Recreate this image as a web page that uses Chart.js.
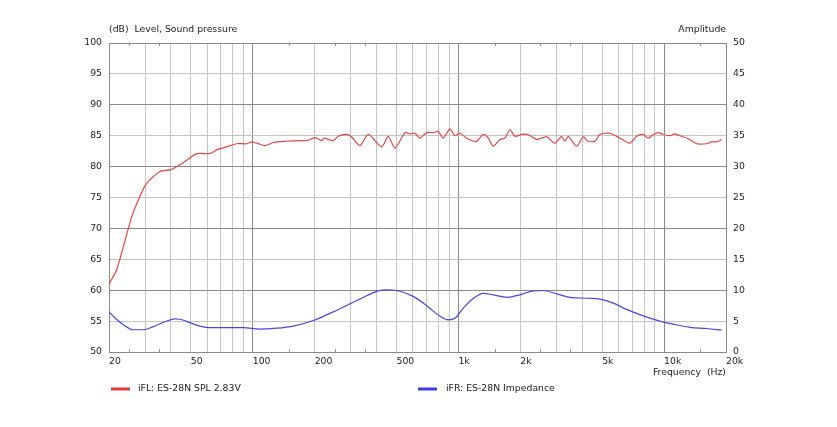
<!DOCTYPE html>
<html>
<head>
<meta charset="utf-8">
<script src="https://cdn.jsdelivr.net/npm/chart.js@4.4.1/dist/chart.umd.min.js"></script>
<style>
  body { margin: 0; background: #fff; }
  #wrap { width: 837px; height: 427px; position: relative; }
</style>
</head>
<body>
<div id="wrap"><canvas id="splChart"></canvas></div>
<script>
// --- data ---
const splFreq = [20, 21.8, 25.8, 28.3, 30.2, 35.4, 40, 44.3, 49.5, 53.4, 62, 66.8, 74.7, 83.5, 93.4, 98.8,
  104.5, 114.7, 125.9, 146.2, 169.7, 182.9, 200.7, 216.4, 222, 246.3, 260.5, 286.2, 302.6, 332, 364.6,
  423.6, 456, 491.6, 549.6, 581, 614.6, 650, 701, 754.6, 797.9, 843.9, 909.8, 962, 1017.6, 1096.5, 1183,
  1229, 1320, 1396, 1476, 1592, 1683, 1780, 1882, 2029, 2184, 2400, 2685, 2946, 3176, 3295, 3419, 3755,
  4044, 4277, 4610, 4875, 5452, 6098, 6820, 7353, 7917, 8373, 8855, 9364, 9904, 10677, 11291, 11940,
  13100, 14390, 16090, 17020, 18000, 19040];
const splDb = [61, 63.3, 71.9, 75.2, 77.1, 79.2, 79.5, 80.3, 81.4, 82.1, 82.1, 82.7, 83.2, 83.7, 83.7, 84.0,
  83.8, 83.4, 83.9, 84.1, 84.2, 84.2, 84.7, 84.2, 84.6, 84.2, 84.9, 85.2, 84.8, 83.4, 85.2,
  83.2, 84.9, 83.0, 85.5, 85.3, 85.4, 84.6, 85.5, 85.5, 85.7, 84.6, 86.1, 85.0, 85.4, 84.6, 84.1,
  84.1, 85.2, 84.6, 83.3, 84.4, 84.6, 86.0, 84.9, 85.2, 85.2, 84.4, 84.8, 83.8, 84.9, 84.1, 84.9, 83.3,
  84.8, 84.1, 84.1, 85.2, 85.4, 84.6, 83.8, 84.9, 85.2, 84.6, 85.2, 85.5, 85.2, 85.0, 85.3, 85.0,
  84.5, 83.7, 83.7, 84.0, 84.0, 84.4];

const impFreq = [20, 21.4, 23.5, 26.3, 29.4, 32.8, 37.4, 41.9, 44.3, 49.5, 55.4, 62, 74.7, 90, 108.4, 130.7,
  157.4, 197, 246.3, 308, 358, 407.8, 448, 500.8, 603, 701, 813, 892, 962, 1056, 1183, 1320, 1476, 1716,
  1991, 2311, 2585, 3004, 3486, 4203, 4875, 5659, 6573, 7917, 9545, 11080, 13350, 16090, 19040];
const impAmp = [6.5, 5.5, 4.4, 3.6, 3.6, 4.1, 4.9, 5.35, 5.3, 4.75, 4.2, 3.95, 3.95, 3.95, 3.7, 3.85,
  4.2, 5.1, 6.5, 8.05, 9.1, 9.9, 10.05, 9.95, 9.0, 7.5, 5.8, 5.2, 5.45, 7.1, 8.7, 9.5, 9.25, 8.85,
  9.25, 9.9, 9.95, 9.4, 8.85, 8.7, 8.55, 7.9, 6.9, 5.85, 5.0, 4.5, 4.0, 3.8, 3.55];

const gridFreqs = [20, 30, 40, 50, 60, 70, 80, 90, 100, 200, 300, 400, 500, 600, 700, 800, 900,
  1000, 2000, 3000, 4000, 5000, 6000, 7000, 8000, 9000, 10000, 20000];
const freqLabels = { 20: '20', 50: '50', 100: '100', 200: '200', 500: '500', 1000: '1k',
  2000: '2k', 5000: '5k', 10000: '10k', 20000: '20k' };
const minorMarks = [25, 35, 150, 250, 350, 1500, 2500, 3500, 15000];

const FONT = 'DejaVu Sans';
const TXT = '#222222';

// --- plugin: titles, legend, small tick marks ---
const decorPlugin = {
  id: 'decor',
  afterDraw(chart) {
    const c = chart.ctx;
    const xs = chart.scales.x;
    const area = chart.chartArea;
    c.save();
    // minor ticks at top and bottom edges
    c.strokeStyle = '#909090';
    c.lineWidth = 1;
    minorMarks.forEach(f => {
      const px = Math.round(xs.getPixelForValue(f)) + 0.5;
      c.beginPath();
      c.moveTo(px, area.top); c.lineTo(px, area.top + 3);
      c.moveTo(px, area.bottom); c.lineTo(px, area.bottom - 3);
      c.stroke();
    });

    c.font = '9.3px "' + FONT + '"';
    c.fillStyle = TXT;
    c.textBaseline = 'middle';
    c.textAlign = 'left';
    c.fillText('(dB)  Level, Sound pressure', 109, 30);
    c.textAlign = 'right';
    c.fillText('Amplitude', 726, 30);
    c.fillText('Frequency  (Hz)', 726, 373);

    // legend
    c.textAlign = 'left';
    c.lineWidth = 3;
    c.strokeStyle = '#e03c3c';
    c.beginPath(); c.moveTo(111, 389); c.lineTo(130, 389); c.stroke();
    c.fillText('iFL: ES-28N SPL 2.83V', 138, 389);
    c.strokeStyle = '#3c3ce0';
    c.beginPath(); c.moveTo(418, 389); c.lineTo(437, 389); c.stroke();
    c.fillText('iFR: ES-28N Impedance', 446, 389);
    c.restore();
  }
};

const ctx = document.getElementById('splChart').getContext('2d');
const splChart = new Chart(ctx, {
  type: 'line',
  data: {
    datasets: [
      {
        label: 'iFL: ES-28N SPL 2.83V',
        data: splFreq.map((f, i) => ({ x: f, y: splDb[i] })),
        borderColor: '#e04848',
        borderWidth: 1.2,
        pointRadius: 0,
        tension: 0.25,
        yAxisID: 'y'
      },
      {
        label: 'iFR: ES-28N Impedance',
        data: impFreq.map((f, i) => ({ x: f, y: impAmp[i] })),
        borderColor: '#4848e0',
        borderWidth: 1.2,
        pointRadius: 0,
        cubicInterpolationMode: 'monotone',
        yAxisID: 'y2'
      }
    ]
  },
  options: {
    responsive: true,
    maintainAspectRatio: false,
    animation: false,
    layout: { padding: { left: 0, right: 0, top: 43, bottom: 0 } },
    plugins: { legend: { display: false }, tooltip: { enabled: false } },
    scales: {
      x: {
        type: 'logarithmic',
        min: 20,
        max: 20000,
        afterBuildTicks: s => { s.ticks = gridFreqs.map(v => ({ value: v })); },
        afterFit: s => { s.height = 75; },
        grid: {
          color: t => ([100, 1000, 10000].includes(t.tick.value) ? '#8a8a8a' : '#c4c4c4'),
          drawTicks: false
        },
        border: { color: '#8a8a8a' },
        ticks: {
          autoSkip: false,
          maxRotation: 0,
          align: 'start',
          padding: 4,
          color: TXT,
          font: { family: FONT, size: 9.3 },
          callback: v => freqLabels[v] || ''
        }
      },
      y: {
        position: 'left',
        min: 50,
        max: 100,
        afterFit: s => { s.width = 109; },
        grid: {
          color: t => (t.tick.value % 10 === 0 ? '#8a8a8a' : '#c4c4c4'),
          drawTicks: false
        },
        border: { color: '#8a8a8a' },
        ticks: { stepSize: 5, padding: 7, color: TXT, font: { family: FONT, size: 9.3 } }
      },
      y2: {
        position: 'right',
        min: 0,
        max: 50,
        afterFit: s => { s.width = 111; },
        grid: { drawOnChartArea: false, drawTicks: false },
        border: { color: '#8a8a8a' },
        ticks: { stepSize: 5, padding: 7, color: TXT, font: { family: FONT, size: 9.3 } }
      }
    }
  },
  plugins: [decorPlugin]
});
</script>
</body>
</html>
